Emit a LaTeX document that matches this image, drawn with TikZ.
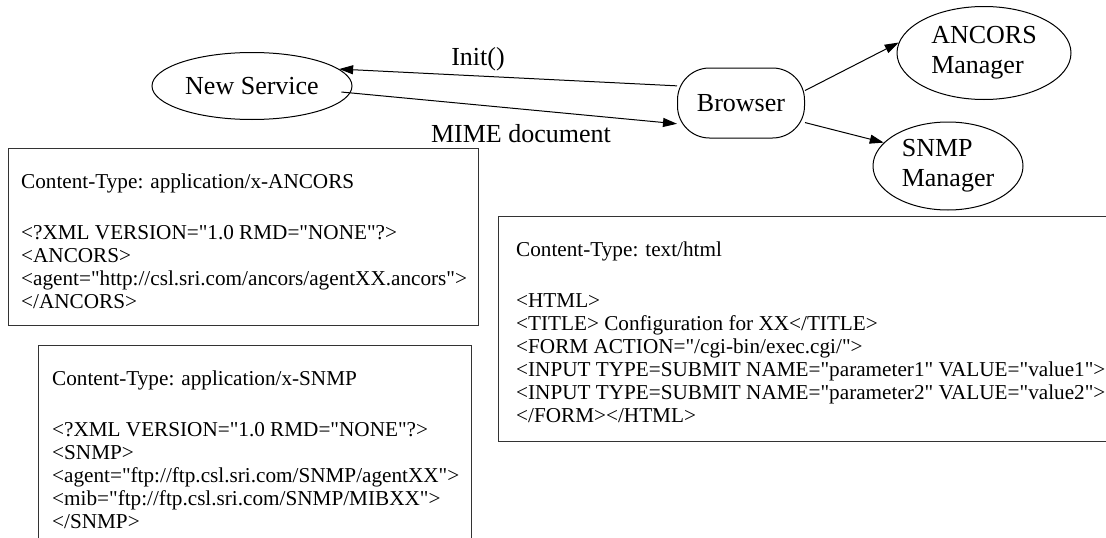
\documentclass[tikz,border=0pt]{standalone}
\usepackage{fontspec}
\setmainfont{Liberation Serif}[Ligatures=TeXOff]
\usetikzlibrary{arrows.meta,shapes.geometric,positioning}
\tikzset{
  >={Triangle[length=14pt,width=9pt]},
  svcnode/.style={ellipse, draw, line width=1pt, inner sep=0pt,
                  font=\fontsize{26}{30}\selectfont, align=left},
  brwsnode/.style={rectangle, rounded corners=32pt, draw, line width=1pt,
                   minimum width=127pt, minimum height=70pt,
                   font=\fontsize{26}{30}\selectfont},
  msgline/.style={draw, line width=1pt, ->},
  msglabel/.style={font=\fontsize{26}{30}\selectfont, inner sep=0pt},
  mimebox/.style={rectangle, draw=black!80, line width=1.2pt, anchor=north west,
                  inner sep=0pt},
  mimetext/.style={anchor=north west, inner sep=0pt, align=left,
                   font=\fontsize{21.2}{23}\selectfont}
}
\begin{document}
\begin{tikzpicture}[x=1pt,y=-1pt]
\useasboundingbox (0,0) rectangle (1106,538);
\clip (0,0) rectangle (1106,538);
% the nodes
\node[svcnode, minimum width=200pt, minimum height=67pt] (newsvc) at (252,86) {New Service};
\node[brwsnode] (browser) at (741,103) {Browser};
\node[svcnode, minimum width=174pt, minimum height=93pt] (ancmgr) at (984,53) {ANCORS\\Manager};
\node[svcnode, minimum width=150pt, minimum height=88pt] (snmpmgr) at (948,166) {SNMP\\Manager};
% the messages
\draw[msgline] (browser.165) -- (newsvc.11);
\draw[msgline, shorten <=-9pt] (newsvc.-4) -- (browser.198);
\draw[msgline] (browser.11) -- (ancmgr.173);
\draw[msgline] (browser.-17) -- (snmpmgr.160);
\node[msglabel] (initlbl) at (478,59) {Init()};
\node[msglabel] (mimelbl) at (521,134) {MIME document};
% the MIME documents
\node[mimebox, minimum width=470pt, minimum height=177pt] (ancbox) at (8,148) {};
\node[mimetext] (ancbody) at ([shift={(13,26)}]ancbox.north west)
  {Content-Type: application/x-ANCORS\\[28pt]
   <?XML VERSION="1.0 RMD="NONE"?>\\
   <ANCORS>\\
   <agent="http://csl.sri.com/ancors/agentXX.ancors">\\
   </ANCORS>};
\node[mimebox, minimum width=433pt, minimum height=210pt] (snmpbox) at (38,345) {};
\node[mimetext] (snmpbody) at ([shift={(14,26)}]snmpbox.north west)
  {Content-Type: application/x-SNMP\\[28pt]
   <?XML VERSION="1.0 RMD="NONE"?>\\
   <SNMP>\\
   <agent="ftp://ftp.csl.sri.com/SNMP/agentXX">\\
   <mib="ftp://ftp.csl.sri.com/SNMP/MIBXX">\\
   </SNMP>};
\node[mimebox, minimum width=630pt, minimum height=225pt] (htmlbox) at (498,216) {};
\node[mimetext] (htmlbody) at ([shift={(18,26)}]htmlbox.north west)
  {Content-Type: text/html\\[28pt]
   <HTML>\\
   <TITLE> Configuration for XX</TITLE>\\
   <FORM ACTION="/cgi-bin/exec.cgi/">\\
   <INPUT TYPE=SUBMIT NAME="parameter1" VALUE="value1">\\
   <INPUT TYPE=SUBMIT NAME="parameter2" VALUE="value2">\\
   </FORM></HTML>};
\end{tikzpicture}
\end{document}
